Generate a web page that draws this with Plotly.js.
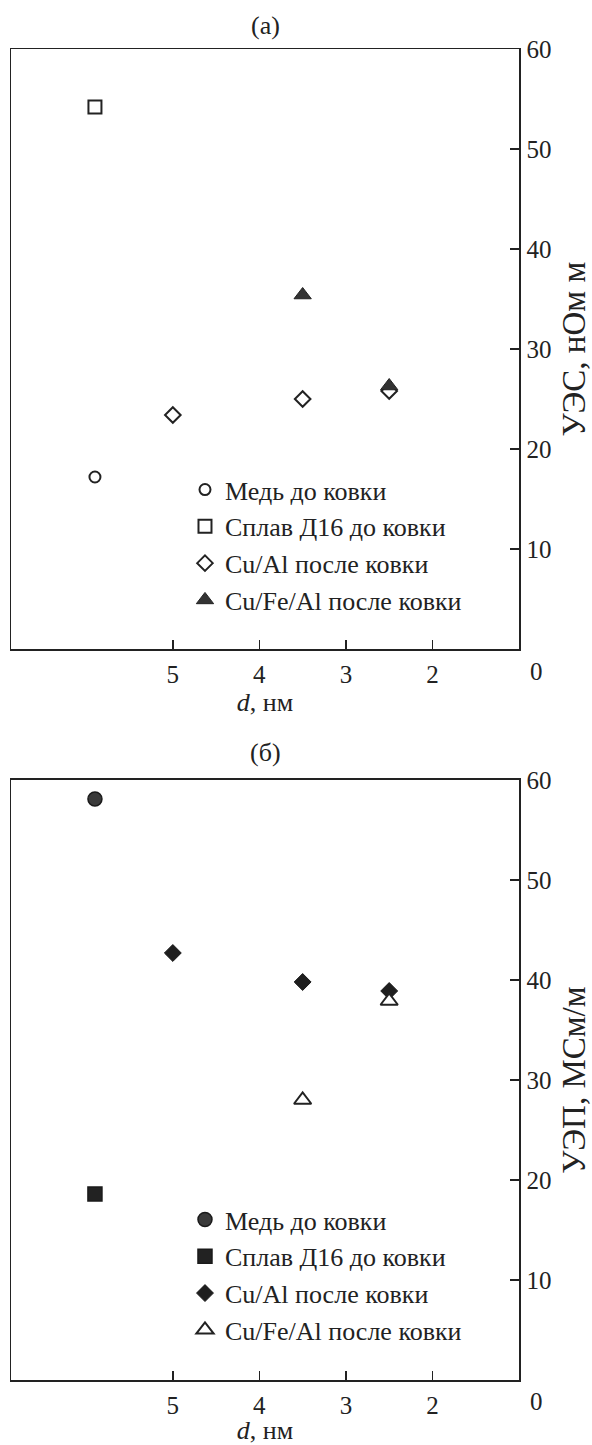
<!DOCTYPE html>
<html>
<head>
<meta charset="utf-8">
<script src="https://cdn.plot.ly/plotly-3.0.1.min.js"></script>
<style>html,body{margin:0;padding:0;background:#fff;}#chart{width:592px;height:1445px;}</style>
</head>
<body>
<div id="chart"></div>
<script>
// Legend labels
const seriesNames = ["Медь до ковки", "Сплав Д16 до ковки", "Cu/Al после ковки", "Cu/Fe/Al после ковки"];
// x ticks (d, nm)
const xTickVals = [5, 4, 3, 2];
const yTickVals = [10, 20, 30, 40, 50, 60];

// Panel (a): УЭС, нОм м
const dCopper = [5.9];
const aCopper = [17.2];
const dD16 = [5.9];
const aD16 = [54.2];
const dCuAl = [5, 3.5, 2.5];
const aCuAl = [23.4, 25.0, 25.8];
const dCuFeAl = [3.5, 2.5];
const aCuFeAl = [35.4, 26.3];

// Panel (б): УЭП, МСм/м
const bCopper = [58.1];
const bD16 = [18.6];
const bCuAl = [42.7, 39.8, 38.9];
const bCuFeAl = [28.0, 37.9];

const FONT = "Liberation Serif, Times New Roman, serif";
const INK = "#222222";
const TICK_SIZE = 25;
const TEXT_SIZE = 26;

function tr(x, y, name, marker, xa, ya, leg, grp) {
  return {type: "scatter", mode: "markers", x: x, y: y, name: name, marker: marker,
          xaxis: xa, yaxis: ya, legend: leg, legendgroup: grp, showlegend: true,
          cliponaxis: false, hoverinfo: "x+y"};
}

const traces = [
  tr(dCopper, aCopper, seriesNames[0], {symbol: "circle-open", size: 11, color: INK, line: {width: 2, color: INK}}, "x", "y", "legend", "a0"),
  tr(dD16, aD16, seriesNames[1], {symbol: "square", size: 13, color: "#ffffff", line: {width: 2, color: INK}}, "x", "y", "legend", "a1"),
  tr(dCuAl, aCuAl, seriesNames[2], {symbol: "diamond", size: 12, color: "#ffffff", line: {width: 2, color: INK}}, "x", "y", "legend", "a2"),
  tr(dCuFeAl, aCuFeAl, seriesNames[3], {symbol: "triangle-up", size: 15, color: "#333333", line: {width: 1, color: INK}}, "x", "y", "legend", "a3"),
  tr(dCopper, bCopper, seriesNames[0], {symbol: "circle", size: 14, color: "#3a3a3a", line: {width: 1.5, color: "#1a1a1a"}}, "x2", "y2", "legend2", "b0"),
  tr(dD16, bD16, seriesNames[1], {symbol: "square", size: 14, color: "#222222", line: {width: 1.5, color: "#1a1a1a"}}, "x2", "y2", "legend2", "b1"),
  tr(dCuAl, bCuAl, seriesNames[2], {symbol: "diamond", size: 13, color: "#1e1e1e", line: {width: 1, color: "#1a1a1a"}}, "x2", "y2", "legend2", "b2"),
  tr(dCuFeAl, bCuFeAl, seriesNames[3], {symbol: "triangle-up", size: 15, color: "#ffffff", line: {width: 2, color: INK}}, "x2", "y2", "legend2", "b3")
];

function xAxis(anchor) {
  return {
    anchor: anchor, range: [6.87, 1.0], tickvals: xTickVals, ticktext: xTickVals.map(String),
    ticks: "inside", ticklen: 9, tickwidth: 1.5, tickcolor: INK,
    showline: true, mirror: true, linecolor: INK, linewidth: 1.5,
    showgrid: false, zeroline: false, ticklabelstandoff: 2,
    tickfont: {family: FONT, size: TICK_SIZE, color: INK},
    title: {text: "<i>d</i>, нм", font: {family: FONT, size: TEXT_SIZE, color: INK}, standoff: 5}
  };
}
function yAxis(anchor, domain, title) {
  return {
    anchor: anchor, domain: domain, side: "right", range: [0, 60], tickvals: yTickVals,
    ticks: "inside", ticklen: 9, tickwidth: 1.5, tickcolor: INK,
    showline: true, mirror: true, linecolor: INK, linewidth: 1.5,
    showgrid: false, zeroline: false, ticklabelstandoff: 1,
    tickfont: {family: FONT, size: TICK_SIZE, color: INK},
    title: {text: title, font: {family: FONT, size: 33, color: INK}, standoff: 13}
  };
}

const legendCommon = {
  xref: "paper", yref: "paper", xanchor: "left", yanchor: "top",
  bgcolor: "rgba(0,0,0,0)", borderwidth: 0, tracegroupgap: 0,
  font: {family: FONT, size: 26, color: INK}, itemclick: false, itemdoubleclick: false
};

const layout = {
  width: 592, height: 1445,
  margin: {l: 11, r: 73, t: 49, b: 65},
  paper_bgcolor: "#ffffff", plot_bgcolor: "#ffffff",
  showlegend: true,
  font: {family: FONT, size: TICK_SIZE, color: INK},
  xaxis: xAxis("y"),
  yaxis: yAxis("x", [0.5492, 1], "УЭС, нОм м"),
  xaxis2: xAxis("y2"),
  yaxis2: yAxis("x2", [0, 0.4508], "УЭП, МСм/м"),
  legend: Object.assign({x: 0.3425, y: 0.6866}, legendCommon),
  legend2: Object.assign({x: 0.3425, y: 0.1382}, legendCommon),
  annotations: [
    {text: "(a)", xref: "paper", yref: "paper", x: 0.5, y: 1.0173, xanchor: "center", yanchor: "middle", showarrow: false, font: {family: FONT, size: TEXT_SIZE, color: INK}},
    {text: "(б)", xref: "paper", yref: "paper", x: 0.5, y: 0.4711, xanchor: "center", yanchor: "middle", showarrow: false, font: {family: FONT, size: TEXT_SIZE, color: INK}},
    {text: "0", xref: "paper", yref: "paper", x: 1.0177, y: 0.5326, xanchor: "left", yanchor: "middle", showarrow: false, font: {family: FONT, size: TICK_SIZE, color: INK}},
    {text: "0", xref: "paper", yref: "paper", x: 1.0177, y: -0.0158, xanchor: "left", yanchor: "middle", showarrow: false, font: {family: FONT, size: TICK_SIZE, color: INK}}
  ]
};

Plotly.newPlot("chart", traces, layout, {staticPlot: true, displayModeBar: false});
</script>
</body>
</html>
